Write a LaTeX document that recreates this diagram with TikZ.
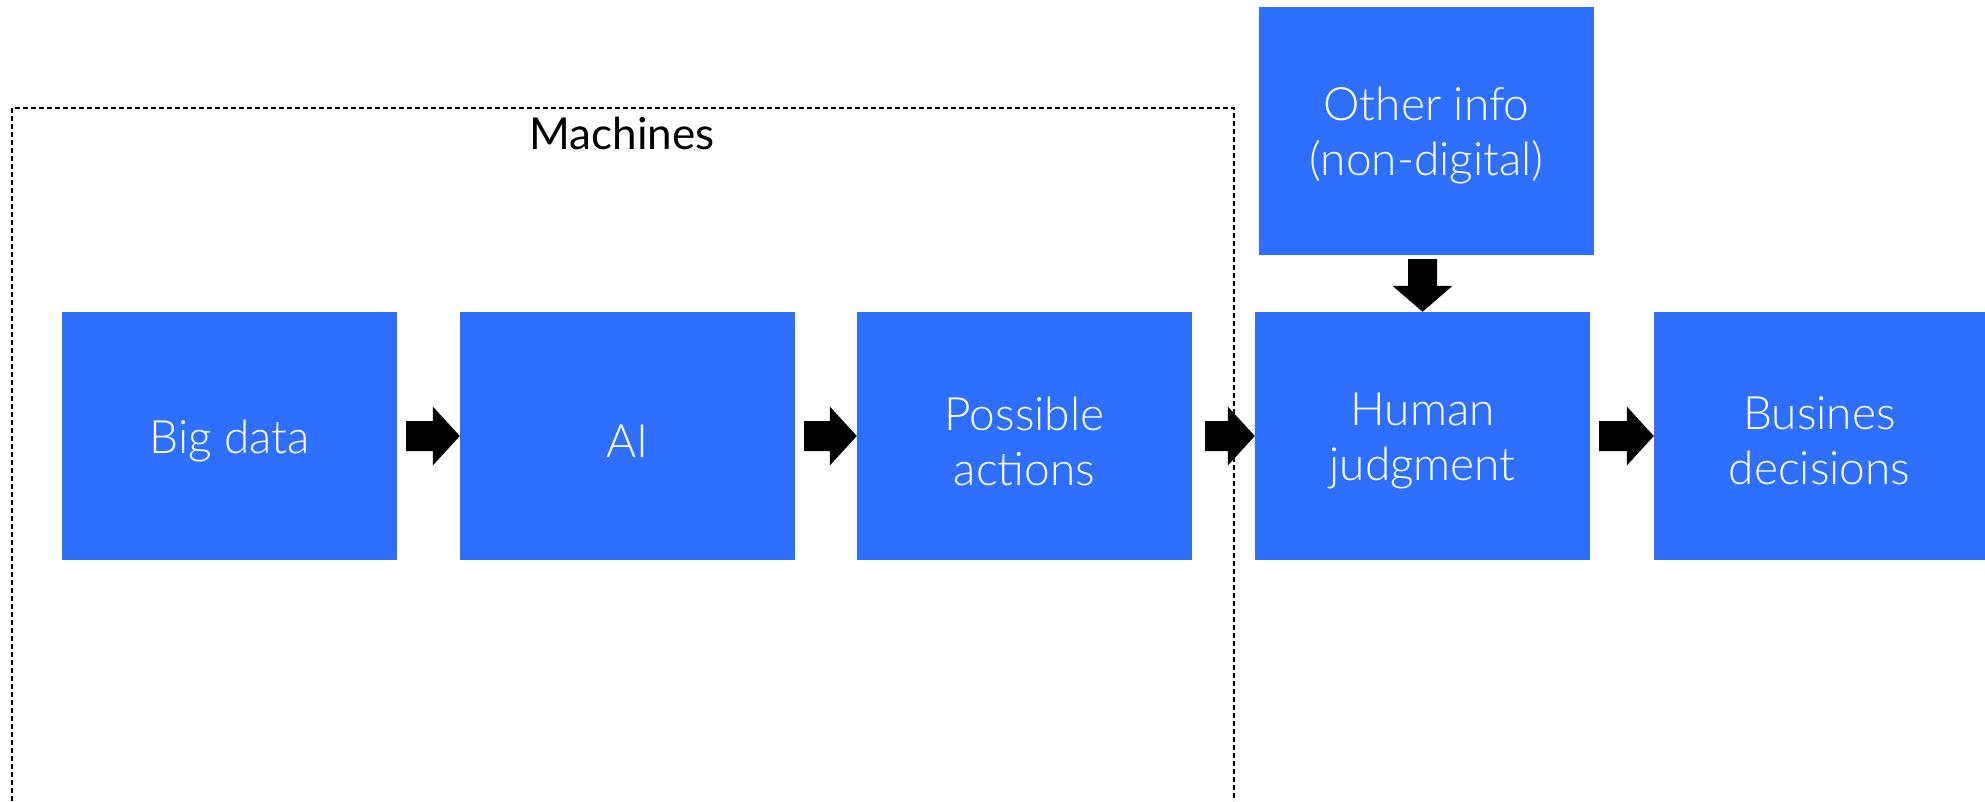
\documentclass[tikz,border=0pt]{standalone}
\usepackage{fontspec}
\setmainfont{Lato}
\newfontfamily\lightfont{Lato Light}
\usetikzlibrary{calc}
\definecolor{boxblue}{RGB}{47,111,255}
\tikzset{
  blockbox/.style={rectangle, fill=boxblue, draw=none, inner sep=0pt,
    minimum width=335pt, minimum height=248pt},
  boxtext/.style={text=white, align=center, inner sep=0pt, yshift=-5pt,
    font=\lightfont\fontsize{46}{55}\selectfont},
  grouplabel/.style={text=black, inner sep=0pt, anchor=base,
    font=\fontsize{44}{50}\selectfont},
  groupframe/.style={draw=black, line width=1.5pt, dash pattern=on 5pt off 3pt},
  fatarrow/.style={fill=black, draw=none}
}
\newcommand\harr[3]{%
  \fill[fatarrow] ($(#1.east)+(#3,-15)$) -- ($(#2.west)+(-27,-15)$) -- ($(#2.west)+(-27,-29.5)$) -- (#2.west)
   -- ($(#2.west)+(-27,29.5)$) -- ($(#2.west)+(-27,15)$) -- ($(#1.east)+(#3,15)$) -- cycle;}
\begin{document}
\begin{tikzpicture}[x=1pt,y=-1pt]
\useasboundingbox (0,0) rectangle (1985,801);
\node[blockbox, label={[boxtext]center:Big data}] (bd) at (229.5,436) {};
\node[blockbox, label={[boxtext]center:AI}] (ai) at (627.5,436) {};
\node[blockbox, label={[boxtext]center:Possible\\actions}] (pa) at (1024.5,436) {};
\node[blockbox, label={[boxtext]center:Human\\judgment}] (hj) at (1422.5,436) {};
\node[blockbox, minimum width=331pt, label={[boxtext]center:Busines\\decisions}] (bu) at (1819.5,436) {};
\node[blockbox, label={[boxtext]center:Other info\\(non-digital)}] (oi) at (1426.5,131) {};
\draw[groupframe] (12,801) -- (12,108) -- (1234,108) -- (1234,801);
\node[grouplabel] (ml) at (622,149) {Machines};
\harr{bd}{ai}{9}
\harr{ai}{pa}{9}
\harr{pa}{hj}{13}
\harr{hj}{bu}{9}
\fill[fatarrow] ($(oi.south)+(-18.5,4)$) -- ($(hj.north)+(-14.5,-26)$) -- ($(hj.north)+(-30,-26)$) -- (hj.north)
  -- ($(hj.north)+(30,-26)$) -- ($(hj.north)+(14.5,-26)$) -- ($(oi.south)+(10.5,4)$) -- cycle;
\end{tikzpicture}
\end{document}
